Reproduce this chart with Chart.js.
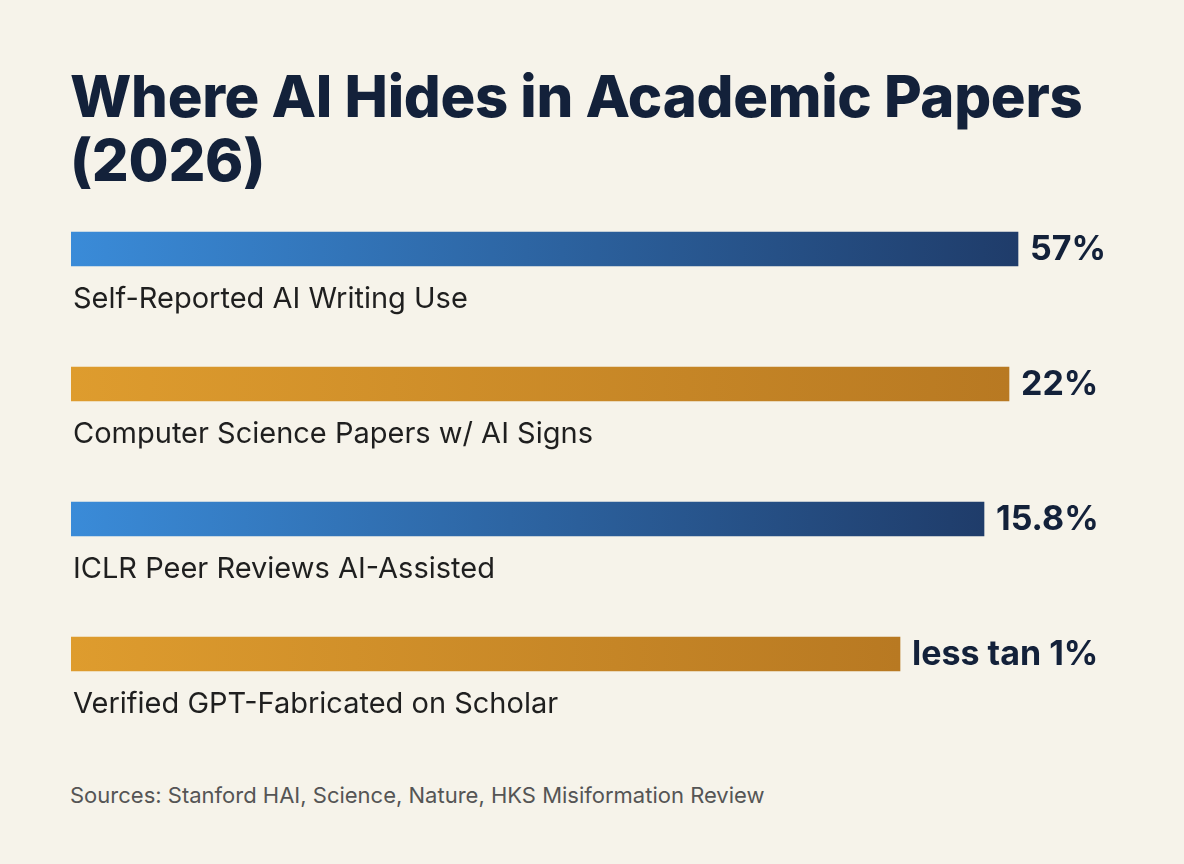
<!DOCTYPE html>
<html><head><meta charset="utf-8">
<script src="https://cdn.jsdelivr.net/npm/chart.js@4"></script>
<style>
html,body{margin:0;padding:0;background:#f6f3ea;width:1184px;height:864px;overflow:hidden;font-family:Inter,"Open Sans",sans-serif}
#title{position:absolute;left:70px;top:64px;font-size:58px;font-weight:800;color:#13213a;line-height:64px;letter-spacing:-0.3px}
#src{position:absolute;left:70px;top:782px;font-size:22px;color:#555;}
canvas{position:absolute;left:0;top:0}
</style></head><body>
<div id="title">Where AI Hides in Academic Papers<br>(2026)</div>
<div id="src">Sources: Stanford HAI, Science, Nature, HKS Misiformation Review</div>
<canvas id="c" width="1184" height="864"></canvas>
<script>
const categories = ["Self-Reported AI Writing Use","Computer Science Papers w/ AI Signs","ICLR Peer Reviews AI-Assisted","Verified GPT-Fabricated on Scholar"];
const valueLabels = ["57%","22%","15.8%","less tan 1%"];
const barLengths = [947, 938, 913, 829];
const palette = [["#3a8bd8","#1f3c6a"],["#de9c2e","#b87922"],["#3a8bd8","#1f3c6a"],["#de9c2e","#b87922"]];

const labelPlugin = {
  id:'lbl',
  afterDatasetsDraw(chart){
    const ctx = chart.ctx, meta = chart.getDatasetMeta(0);
    meta.data.forEach((bar,i)=>{
      ctx.save();
      ctx.fillStyle="#1f1f1f";
      ctx.font='29px Inter, "Open Sans", sans-serif';
      ctx.textBaseline='middle';
      ctx.textAlign='left';
      ctx.fillText(categories[i], 73, bar.y+50);
      ctx.fillStyle="#13213a";
      ctx.font='bold 34px Inter, "Open Sans", sans-serif';
      ctx.fillText(valueLabels[i], bar.x+12, bar.y+1);
      ctx.restore();
    });
  }
};

new Chart(document.getElementById('c'),{
  type:'bar',
  data:{labels:categories,datasets:[{data:barLengths,barThickness:34,
    backgroundColor:(c)=>{
      const ch=c.chart; if(!ch.chartArea) return palette[c.dataIndex][0];
      const x=ch.scales.x; const g=ch.ctx.createLinearGradient(x.getPixelForValue(0),0,x.getPixelForValue(barLengths[c.dataIndex]),0);
      g.addColorStop(0,palette[c.dataIndex][0]); g.addColorStop(1,palette[c.dataIndex][1]); return g;
    }}]},
  options:{indexAxis:'y',responsive:false,animation:false,
    layout:{padding:{left:71,right:113,top:181.5,bottom:142.5}},
    plugins:{legend:{display:false},tooltip:{enabled:false}},
    scales:{x:{display:false,min:0,max:1000},y:{display:false}}},
  plugins:[labelPlugin]
});
</script>
</body></html>
